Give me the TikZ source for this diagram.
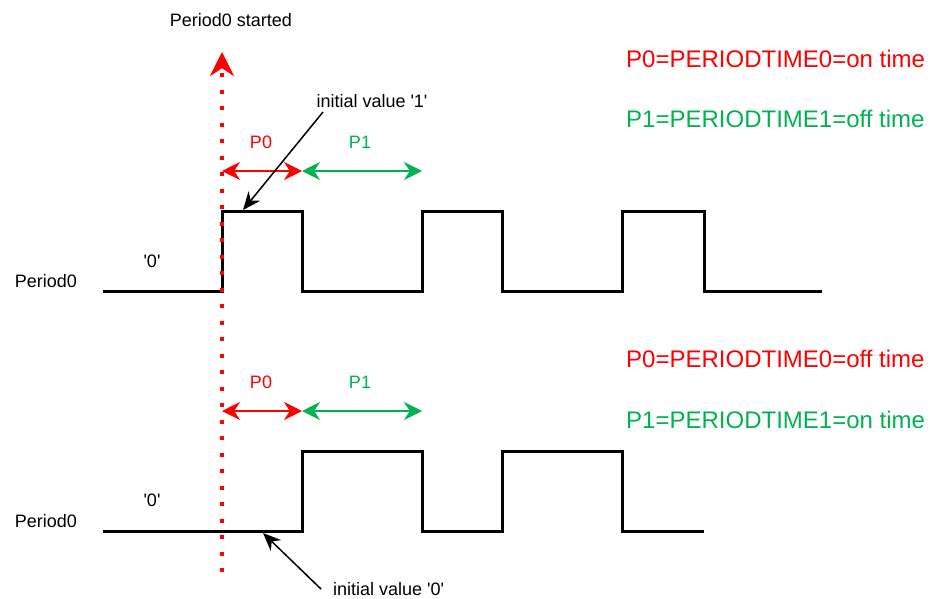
\documentclass[tikz,border=0pt]{standalone}
\usepackage{fontspec}
\setmainfont{Liberation Sans}
\usetikzlibrary{arrows.meta}
\definecolor{onred}{RGB}{255,0,0}
\definecolor{offgreen}{RGB}{0,178,80}
\newcommand{\sq}{\textquotesingle}
\tikzset{
    wave/.style={line width=3pt, line join=miter},
    lbl/.style={inner sep=0pt, font=\fontsize{18}{21}\selectfont},
    note/.style={inner sep=0pt, anchor=west, font=\fontsize{24}{28}\selectfont},
    span/.style={line width=2pt, {Stealth[length=18pt,width=18pt]}-{Stealth[length=18pt,width=18pt]}},
    pointer/.style={line width=1.5pt, -{Stealth[length=18pt,width=15pt]}},
    startline/.style={onred, line width=4pt, dash pattern=on 4pt off 12.5pt, -{Stealth[length=24pt,width=24pt]}}
}

\begin{document}
\begin{tikzpicture}[x=1pt,y=-1pt]
	\useasboundingbox (0,0) rectangle (931,598);
	% labels
	\node[lbl] (started) at (231,20) {Period0 started};
	\node[lbl] (name1) at (46,281) {Period0};
	\node[lbl] (zero1) at (152,261) {\sq0\sq};
	\node[lbl] (name2) at (46,521) {Period0};
	\node[lbl] (zero2) at (152,500) {\sq0\sq};
	\node[lbl, onred] (p0a) at (261,142) {P0};
	\node[lbl, offgreen] (p1a) at (360,142) {P1};
	\node[lbl, onred] (p0b) at (261,382) {P0};
	\node[lbl, offgreen] (p1b) at (360,382) {P1};
	\node[lbl] (init1) at (372,101) {initial value \sq1\sq};
	\node[lbl, anchor=west] (init0) at (333,589) {initial value \sq0\sq};
	\node[note, onred] (def0a) at (626,59) {P0=PERIODTIME0=on time};
	\node[note, offgreen] (def1a) at (626,119) {P1=PERIODTIME1=off time};
	\node[note, onred] (def0b) at (626,359) {P0=PERIODTIME0=off time};
	\node[note, offgreen] (def1b) at (626,420) {P1=PERIODTIME1=on time};

	% waveforms
	\draw[wave] (103,291) -| (222,211) -| (302,291) -| (422,211) -| (502,291)
	    -| (622,211) -| (704,291) -- (822,291);
	\draw[wave] (103,531) -| (302,451) -| (422,531) -| (502,451) -| (622,531)
	    -- (704,531);

	% periods
	\coordinate (a0) at (222,171);
	\coordinate (a1) at (302,171);
	\coordinate (a2) at (422,171);
	\coordinate (b0) at (222,411);
	\coordinate (b1) at (302,411);
	\coordinate (b2) at (422,411);
	\draw[span, onred] (a0) -- (a1);
	\draw[span, offgreen] (a1) -- (a2);
	\draw[span, onred] (b0) -- (b1);
	\draw[span, offgreen] (b1) -- (b2);

	% pointers
	\coordinate (tail1) at (323,112);
	\coordinate (tip1) at (243,210);
	\coordinate (tail0) at (321,589);
	\coordinate (tip0) at (263,533);
	\draw[pointer] (tail1) -- (tip1);
	\draw[pointer] (tail0) -- (tip0);

	% start marker
	\coordinate (sbot) at (222,572);
	\coordinate (stop) at (222,52);
	\draw[startline] (sbot) -- (stop);
\end{tikzpicture}
\end{document}
